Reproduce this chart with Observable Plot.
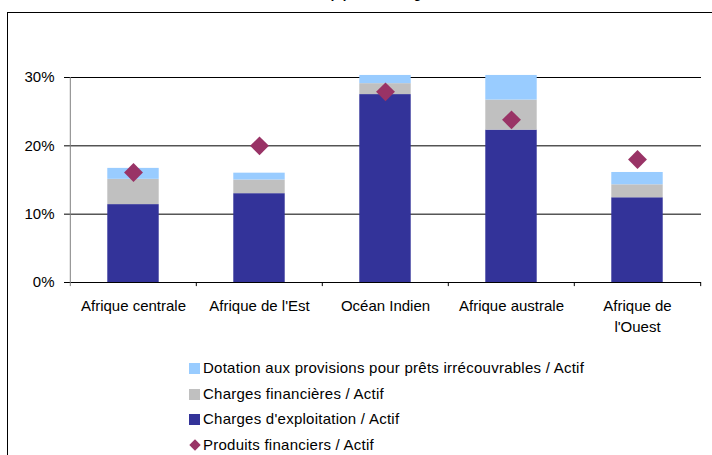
<!DOCTYPE html>
<html>
<head>
<meta charset="utf-8">
<script src="https://cdn.jsdelivr.net/npm/d3@7"></script>
<script src="https://cdn.jsdelivr.net/npm/@observablehq/plot@0.6"></script>
<style>
  html, body { margin: 0; padding: 0; background: #fff; }
  #wrap { position: relative; width: 712px; height: 455px; overflow: hidden; font-family: "Liberation Sans", Arial, Helvetica, sans-serif; color: #000; }
  #title { position: absolute; left: 0; width: 720px; top: -29px; text-align: center; font-weight: bold; font-size: 13px; line-height: 15px; }
  #frame { position: absolute; left: 7px; top: 12px; width: 720px; height: 470px; border: 1.5px solid #000; box-sizing: border-box; pointer-events: none; }
  #chart { position: absolute; left: 0; top: 0; }
  #legend { position: absolute; left: 189px; top: 358px; font-size: 15px; letter-spacing: 0.25px; }
  .row { position: absolute; left: 0; height: 20px; white-space: nowrap; }
  .sw { position: absolute; left: 0; top: 5px; width: 11px; height: 11px; }
  .lbl { position: absolute; left: 14px; top: 0; line-height: 20px; }
</style>
</head>
<body>
<div id="wrap">
  <div id="title">Structure des charges et produits financiers<br>de l'actif), par sous-région</div>
  <div id="chart"></div>
  <div id="legend"></div>
  <div id="frame"></div>
</div>
<script>
// ---- data ----
const categories = ["Afrique centrale", "Afrique de l'Est", "Océan Indien", "Afrique australe", "Afrique de l'Ouest"];
const categoryLabels = ["Afrique centrale", "Afrique de l'Est", "Océan Indien", "Afrique australe", "Afrique de\nl'Ouest"];
const chargesExploitation = [0.114, 0.130, 0.275, 0.223, 0.124];
const chargesFinancieres  = [0.037, 0.020, 0.016, 0.044, 0.019];
const dotationProvisions  = [0.016, 0.010, 0.012, 0.036, 0.018];
const produitsFinanciers  = [0.161, 0.200, 0.279, 0.238, 0.180];
const yTicks = [0, 0.1, 0.2, 0.3];

const seriesNames = [
  "Charges d'exploitation / Actif",
  "Charges financières / Actif",
  "Dotation aux provisions pour prêts irrécouvrables / Actif"
];
const seriesValues = [chargesExploitation, chargesFinancieres, dotationProvisions];
const seriesColors = ["#333399", "#C0C0C0", "#99CCFF"];
const diamondName = "Produits financiers / Actif";
const diamondColor = "#993366";

// long table for stacking (bottom -> top)
const rows = [];
seriesNames.forEach((s, i) => categories.forEach((c, j) => rows.push({cat: c, series: s, value: seriesValues[i][j]})));
const points = categories.map((c, j) => ({cat: c, value: produitsFinanciers[j]}));

const W = 712, H = 340, ML = 69, MR = 11, MT = 77, MB = 58;
const bw = (W - ML - MR) / categories.length;
const font = '"Liberation Sans", Arial, Helvetica, sans-serif';

const chart = Plot.plot({
  width: W, height: H,
  marginLeft: ML, marginRight: MR, marginTop: MT, marginBottom: MB,
  style: {fontFamily: font, fontSize: "15px", background: "transparent", color: "#000", overflow: "visible"},
  x: {type: "band", domain: categories, padding: 0, label: null},
  y: {domain: [0, 0.3], label: null},
  color: {domain: seriesNames, range: seriesColors},
  marks: [
    Plot.ruleY(yTicks.slice(1), {stroke: "#000", strokeWidth: 1}),
    Plot.barY(rows, Plot.stackY({x: "cat", y: "value", fill: "series", insetLeft: bw * 0.295, insetRight: bw * 0.295})),
    Plot.ruleY([0], {stroke: "#000", strokeWidth: 1}),
    // y axis line (gray) at left edge of first band
    Plot.ruleX([categories[0]], {x: d => d, y1: -0.006, y2: 0.3, dx: -bw / 2, stroke: "#808080", strokeWidth: 1}),
    // category boundary ticks
    Plot.ruleX(categories.slice(1), {x: d => d, y1: 0, y2: -0.006, dx: -bw / 2, stroke: "#000"}),
    Plot.ruleX([categories[categories.length - 1]], {x: d => d, y1: 0, y2: -0.006, dx: bw / 2, stroke: "#000"}),
    Plot.dot(points, {x: "cat", y: "value", symbol: "diamond2", r: 8.5, fill: diamondColor, stroke: "none"}),
    Plot.axisY({ticks: yTicks, tickFormat: d3.format(".0%"), tickSize: 5, tickPadding: 10, fontSize: 15, stroke: "#000", label: null}),
    Plot.axisX({tickSize: 0, tickPadding: 14, fontSize: 15, lineHeight: 1.38, tickFormat: (d, i) => categoryLabels[categories.indexOf(d)], label: null})
  ]
});
document.getElementById("chart").appendChild(chart);

// legend
const legend = document.getElementById("legend");
const legendItems = [
  {name: seriesNames[2], color: seriesColors[2], shape: "square"},
  {name: seriesNames[1], color: seriesColors[1], shape: "square"},
  {name: seriesNames[0], color: seriesColors[0], shape: "square"},
  {name: diamondName, color: diamondColor, shape: "diamond"}
];
legendItems.forEach((it, i) => {
  const row = document.createElement("div");
  row.className = "row";
  row.style.top = (i * 25.5) + "px";
  let sw;
  if (it.shape === "square") {
    sw = `<div class="sw" style="background:${it.color}"></div>`;
  } else {
    sw = `<svg style="position:absolute;left:0;top:4px" width="12" height="12"><path d="M6,0.3L11.7,6L6,11.7L0.3,6Z" fill="${it.color}"/></svg>`;
  }
  row.innerHTML = sw + `<span class="lbl">${it.name}</span>`;
  legend.appendChild(row);
});
</script>
</body>
</html>
